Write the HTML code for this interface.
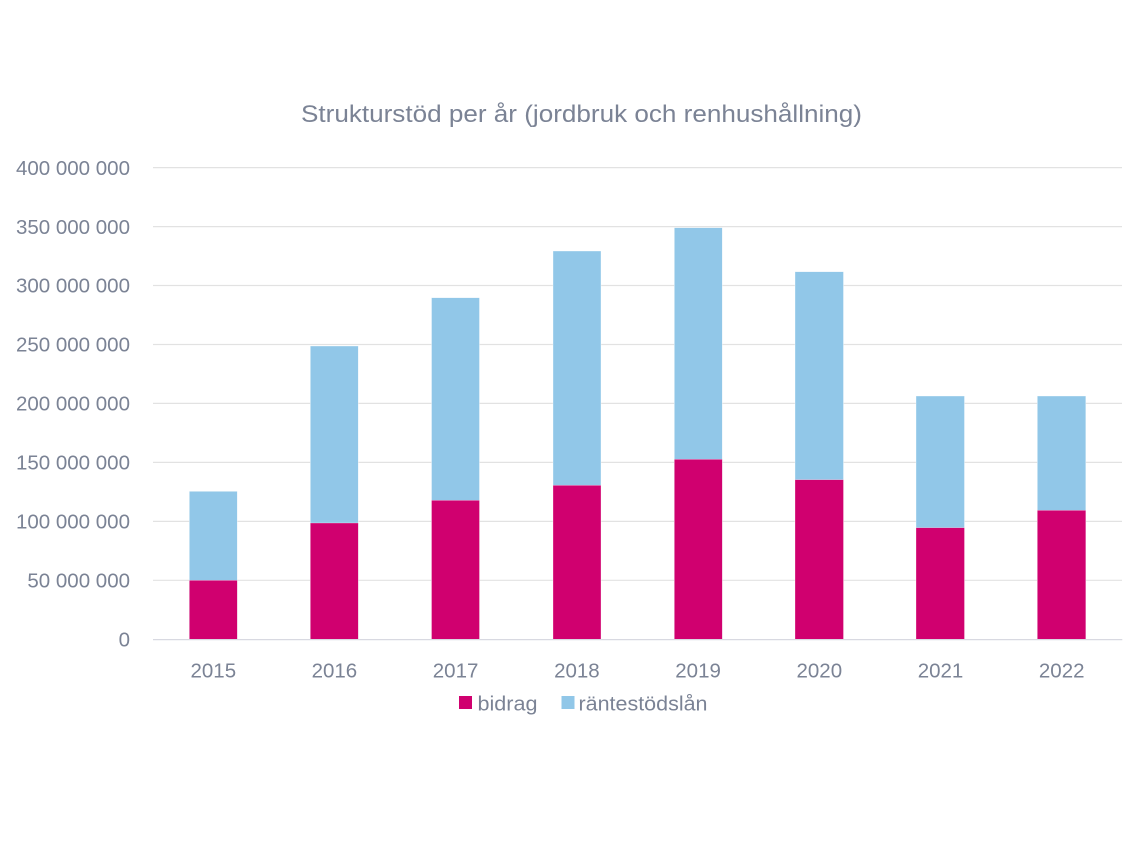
<!DOCTYPE html>
<html>
<head>
<meta charset="utf-8">
<style>
  html, body { margin: 0; padding: 0; background: #ffffff; }
  svg { display: block; }
  text { font-family: "Liberation Sans", "DejaVu Sans", sans-serif; fill: #7b8395; }
</style>
</head>
<body>
<svg width="1140" height="860" viewBox="0 0 1140 860" xmlns="http://www.w3.org/2000/svg">
  <rect x="0" y="0" width="1140" height="860" fill="#ffffff"/>

  <!-- Title -->
  <text x="301" y="122" font-size="24" textLength="561" lengthAdjust="spacingAndGlyphs">Strukturstöd per år (jordbruk och renhushållning)</text>

  <!-- Gridlines -->
  <g stroke="#e2e2e2" stroke-width="1.2">
    <line x1="153" y1="167.6" x2="1122" y2="167.6"/>
    <line x1="153" y1="226.6" x2="1122" y2="226.6"/>
    <line x1="153" y1="285.5" x2="1122" y2="285.5"/>
    <line x1="153" y1="344.5" x2="1122" y2="344.5"/>
    <line x1="153" y1="403.4" x2="1122" y2="403.4"/>
    <line x1="153" y1="462.4" x2="1122" y2="462.4"/>
    <line x1="153" y1="521.4" x2="1122" y2="521.4"/>
    <line x1="153" y1="580.3" x2="1122" y2="580.3"/>
  </g>

  <!-- Y labels -->
  <g font-size="20.5" text-anchor="end">
    <text x="130" y="174.8">400 000 000</text>
    <text x="130" y="233.8">350 000 000</text>
    <text x="130" y="292.7">300 000 000</text>
    <text x="130" y="351.7">250 000 000</text>
    <text x="130" y="410.6">200 000 000</text>
    <text x="130" y="469.6">150 000 000</text>
    <text x="130" y="528.6">100 000 000</text>
    <text x="130" y="587.5">50 000 000</text>
    <text x="130" y="646.5">0</text>
  </g>

  <!-- Bars: blue (total) then pink (bidrag) -->
  <g fill="#91c7e8" stroke="#ffffff" stroke-width="0.6" stroke-opacity="0.6">
    <rect x="189.3" y="491.3" width="48" height="148"/>
    <rect x="310.3" y="346" width="48" height="293.3"/>
    <rect x="431.5" y="297.7" width="48" height="341.6"/>
    <rect x="553" y="251" width="48" height="388.3"/>
    <rect x="674.3" y="227.7" width="48" height="411.6"/>
    <rect x="795" y="271.7" width="48.5" height="367.6"/>
    <rect x="916" y="396" width="48.5" height="243.3"/>
    <rect x="1037.3" y="396" width="48.5" height="243.3"/>
  </g>
  <g fill="#d0006f" stroke="#ffffff" stroke-width="0.6" stroke-opacity="0.5">
    <rect x="189.3" y="580.3" width="48" height="59"/>
    <rect x="310.3" y="523" width="48" height="116.3"/>
    <rect x="431.5" y="500.3" width="48" height="139"/>
    <rect x="553" y="485.3" width="48" height="154"/>
    <rect x="674.3" y="459.3" width="48" height="180"/>
    <rect x="795" y="479.7" width="48.5" height="159.6"/>
    <rect x="916" y="527.7" width="48.5" height="111.6"/>
    <rect x="1037.3" y="510.3" width="48.5" height="129"/>
  </g>

  <!-- X axis line -->
  <line x1="153" y1="639.6" x2="1122.3" y2="639.6" stroke="#d8d9e1" stroke-width="1.3"/>

  <!-- X labels -->
  <g font-size="20.5" text-anchor="middle">
    <text x="213.3" y="677.5">2015</text>
    <text x="334.4" y="677.5">2016</text>
    <text x="455.6" y="677.5">2017</text>
    <text x="576.9" y="677.5">2018</text>
    <text x="698.1" y="677.5">2019</text>
    <text x="819.3" y="677.5">2020</text>
    <text x="940.5" y="677.5">2021</text>
    <text x="1061.7" y="677.5">2022</text>
  </g>

  <!-- Legend -->
  <rect x="459" y="696" width="13" height="13" fill="#d0006f"/>
  <text x="477.5" y="710.5" font-size="20.5" textLength="60" lengthAdjust="spacingAndGlyphs">bidrag</text>
  <rect x="561.5" y="696" width="13" height="13" fill="#91c7e8"/>
  <text x="578.5" y="710.5" font-size="20.5" textLength="129" lengthAdjust="spacingAndGlyphs">räntestödslån</text>
</svg>
</body>
</html>
